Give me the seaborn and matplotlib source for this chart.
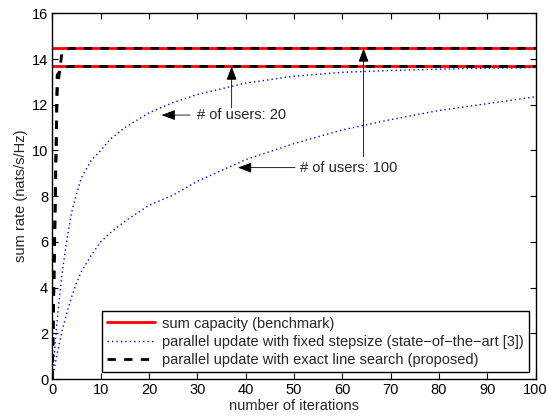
import matplotlib
matplotlib.use("Agg")
import matplotlib.pyplot as plt
import seaborn as sns

# capacidade (benchmark) para 20 e 100 usuarios
capacidade_20 = 13.68
capacidade_100 = 14.47
iter_limites = [0, 100]

# passo fixo (estado da arte)
iter_fixo = [0, 1, 2, 3, 4, 5, 6, 8, 10, 12, 15, 20, 25, 30, 40, 50, 60, 70, 80, 90, 100]
fixo_20 = [0, 2.6, 4.6, 6.1, 7.3, 8.1, 8.8, 9.55, 10.0, 10.5, 11.0, 11.65, 12.1, 12.45,
           12.95, 13.25, 13.42, 13.5, 13.56, 13.6, 13.63]
fixo_100 = [0, 1.1, 2.1, 2.9, 3.6, 4.2, 4.7, 5.4, 6.0, 6.4, 6.9, 7.6, 8.05, 8.65,
            9.6, 10.3, 10.9, 11.35, 11.75, 12.05, 12.35]

# busca exata (proposto)
iter_exato = [0, 1, 2, 3, 4, 5, 100]
exato_20 = [0, 13.3, 13.6, 13.66, 13.68, 13.68, 13.68]
exato_100 = [0, 12.6, 14.3, 14.44, 14.47, 14.47, 14.47]

sns.set_style("ticks")
plt.rcParams['font.family'] = ['Liberation Sans', 'DejaVu Sans']
fs = 10.5
plt.rcParams['font.size'] = fs

fig = plt.figure(figsize=(5.48, 4.18), dpi=100)
ax = fig.add_axes([0.0955, 0.0933, 0.8819, 0.8747])

# linhas vermelhas: capacidade
sns.lineplot(x=iter_limites, y=[capacidade_100] * 2, ax=ax, color='red', linewidth=2,
             label='sum capacity (benchmark)')
sns.lineplot(x=iter_limites, y=[capacidade_20] * 2, ax=ax, color='red', linewidth=2)

# linhas azuis pontilhadas
sns.lineplot(x=iter_fixo, y=fixo_20, ax=ax, color='blue', linewidth=1, linestyle=(0, (1, 2.2)),
             label='parallel update with fixed stepsize (state\u2212of\u2212the\u2212art [3])')
sns.lineplot(x=iter_fixo, y=fixo_100, ax=ax, color='blue', linewidth=1, linestyle=(0, (1, 2.2)))

# linhas pretas tracejadas
sns.lineplot(x=iter_exato, y=exato_100, ax=ax, color='black', linewidth=2,
             linestyle=(0, (3, 3)),
             label='parallel update with exact line search (proposed)')
sns.lineplot(x=iter_exato, y=exato_20, ax=ax, color='black', linewidth=2,
             linestyle=(0, (3, 3)))

ax.set_xlim(0, 100)
ax.set_ylim(0, 16)
ax.set_xticks(range(0, 101, 10))
ax.set_yticks(range(0, 17, 2))
ax.tick_params(direction='in', top=True, right=True, length=4, width=0.8,
               labelsize=fs, colors='black', pad=3)
for s in ax.spines.values():
    s.set_linewidth(1)
    s.set_color('black')
ax.set_xlabel('number of iterations', fontsize=fs, labelpad=1)
ax.set_ylabel('sum rate (nats/s/Hz)', fontsize=fs, labelpad=3)

# anotacoes
seta = dict(arrowstyle='-|>,head_length=0.8,head_width=0.3', color='black',
            lw=0.6, shrinkA=0, shrinkB=0)
ax.annotate('', xy=(22.6, 11.55), xytext=(28.5, 11.55), arrowprops=seta)
ax.annotate('', xy=(37.1, 13.68), xytext=(37.1, 11.86), arrowprops=seta)
ax.text(29.9, 11.55, '# of users: 20', va='center', ha='left', fontsize=fs)

ax.annotate('', xy=(38.4, 9.25), xytext=(50.2, 9.25), arrowprops=seta)
ax.annotate('', xy=(64.4, 14.47), xytext=(64.4, 9.73), arrowprops=seta)
ax.text(51.2, 9.25, '# of users: 100', va='center', ha='left', fontsize=fs)

leg = ax.legend(loc='lower right', fontsize=fs, handlelength=3.3, frameon=True,
                fancybox=False, borderaxespad=0.45, borderpad=0.35, labelspacing=0.3,
                handletextpad=0.5)
leg.get_frame().set_edgecolor('black')
leg.get_frame().set_linewidth(1)
leg.get_frame().set_alpha(1)

plt.savefig('out.png', dpi=100)
plt.close()
